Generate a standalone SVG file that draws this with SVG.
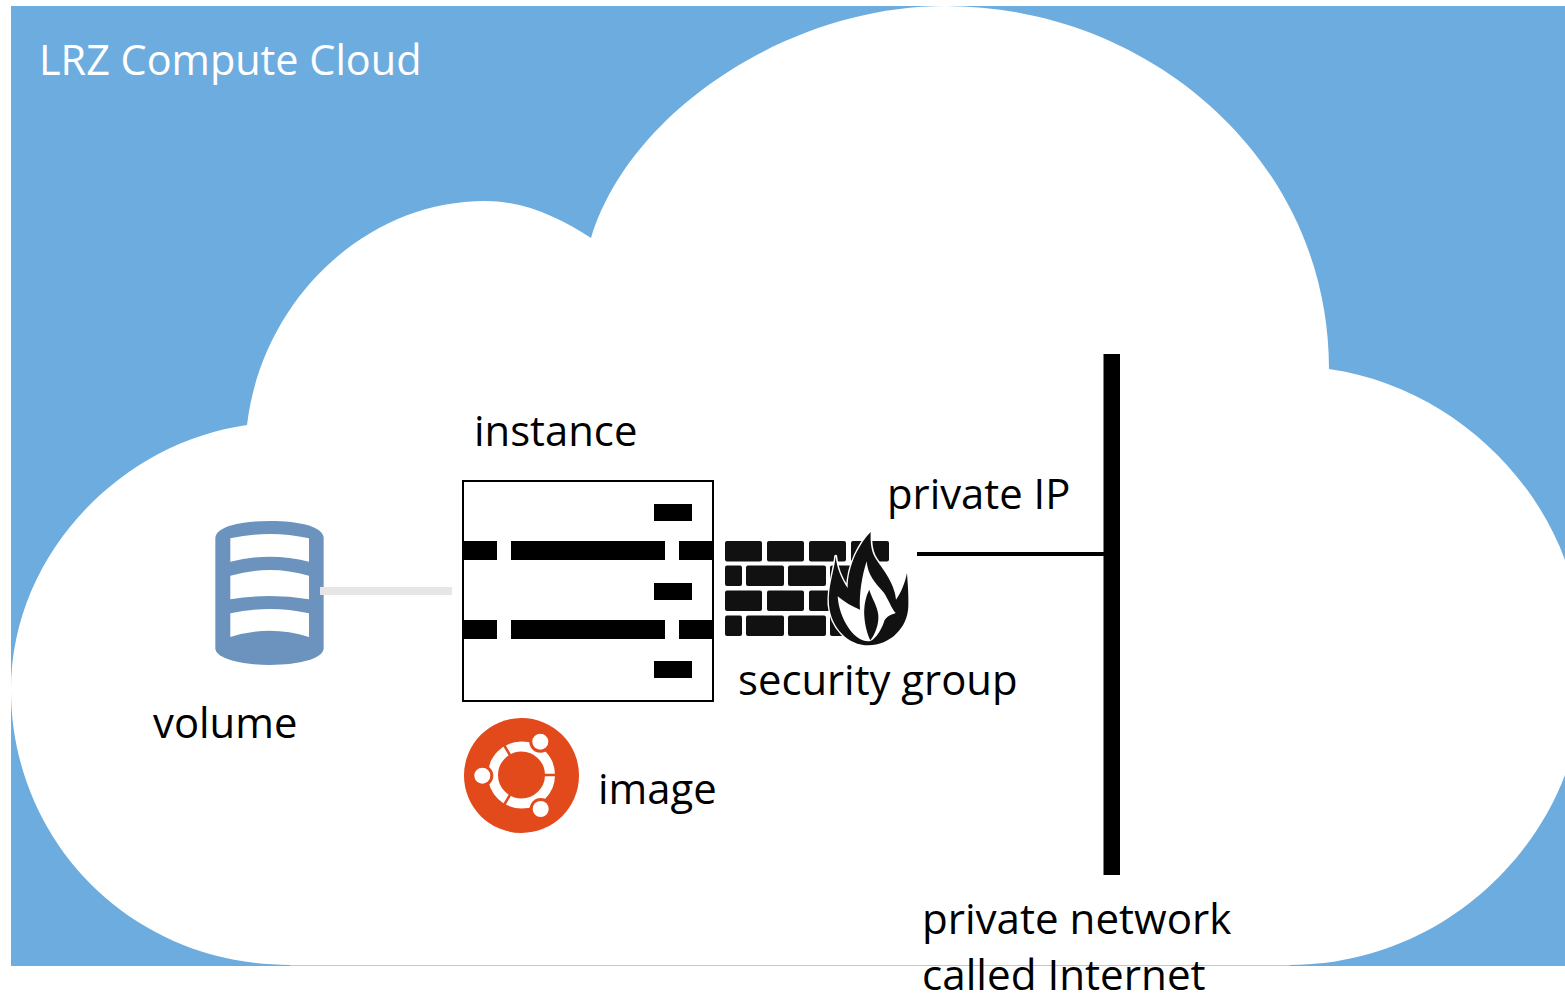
<svg xmlns="http://www.w3.org/2000/svg" width="1565" height="994" viewBox="0 0 1565 994">
<style>
text{font-family:"Open Sans","Noto Sans","Liberation Sans",sans-serif;font-size:41.800px;fill:#000}
.b{fill:#000}
.br{fill:#111;rx:2px}
.w{fill:#fff}
.o{fill:#e2491b}
</style>
<rect width="1565" height="994" fill="#fff"/>
<g id="cloud">
<rect x="11" y="6" width="1554" height="960" fill="#6dacdf"/>
<path class="w" d="M11 690C11 555 120 443 247 425C262 300 365 201 485 201C525 201 560 218 591 238C630 110 790 6 945 6C1150 6 1329 160 1329 369C1440 385 1530 465 1565 560L1565 775C1525 880 1420 965 1290 965L290 965C130 965 11 840 11 690Z"/>
<path d="M290 965.500L1290 965.500" stroke="#a9cdec" stroke-width="1" fill="none"/>
<text x="39" y="75" style="fill:#fff;font-size:41.400px">LRZ Compute Cloud</text>
</g>
<g id="network">
<rect class="b" x="1103.500" y="354" width="16.500" height="521"/>
<text x="922" y="934" style="font-size:42.100px">private network</text>
<text x="922" y="990" style="font-size:42.200px">called Internet</text>
</g>
<g id="volume">
<g transform="translate(200 510) scale(.3333)">
<path fill="#6c93bd" d="M46 85C46 50 120 33 209 33C300 33 371 50 371 85L371 415C371 445 300 465 209 465C120 465 46 445 46 415Z"/>
<path class="w" d="M91 85Q209 59 327 85L327 155Q209 125 91 155ZM91 197Q209 163 327 197L327 268Q209 248 91 268ZM91 310Q209 284 327 310L327 381Q209 343 91 381Z"/>
</g>
<text x="153" y="738">volume</text>
</g>
<g id="instance">
<rect x="463" y="481" width="250" height="220" fill="#fff" stroke="#000" stroke-width="2"/>
<rect class="b" x="654" y="504" width="38" height="17"/>
<rect class="b" x="463" y="541" width="34" height="19"/>
<rect class="b" x="511" y="541" width="154" height="19"/>
<rect class="b" x="679" y="541" width="34" height="19"/>
<rect class="b" x="654" y="583" width="38" height="17"/>
<rect class="b" x="463" y="620" width="34" height="19"/>
<rect class="b" x="511" y="620" width="154" height="19"/>
<rect class="b" x="679" y="620" width="34" height="19"/>
<rect class="b" x="654" y="661" width="38" height="17"/>
<text x="474" y="446">instance</text>
</g>
<g id="security-group">
<rect class="br" x="725" y="541" width="37" height="20.500"/>
<rect class="br" x="767" y="541" width="37" height="20.500"/>
<rect class="br" x="809" y="541" width="37" height="20.500"/>
<rect class="br" x="851" y="541" width="38" height="20.500"/>
<rect class="br" x="725" y="565.500" width="17" height="20.500"/>
<rect class="br" x="746" y="565.500" width="38" height="20.500"/>
<rect class="br" x="788" y="565.500" width="38" height="20.500"/>
<rect class="br" x="830" y="565.500" width="40" height="20.500"/>
<rect class="br" x="725" y="590.500" width="37" height="20.500"/>
<rect class="br" x="767" y="590.500" width="37" height="20.500"/>
<rect class="br" x="809" y="590.500" width="37" height="20.500"/>
<rect class="br" x="725" y="615.500" width="17" height="20.500"/>
<rect class="br" x="746" y="615.500" width="38" height="20.500"/>
<rect class="br" x="788" y="615.500" width="38" height="20.500"/>
<rect class="br" x="830" y="615.500" width="20" height="20.500"/>
<g transform="translate(825 528) scale(.3333)">
<path fill="#111" stroke="#fff" stroke-width="9" stroke-linejoin="round" paint-order="stroke" d="M137 12C105 45 68 110 68 180C50 155 35 120 32 85C28 130 8 175 12 230C18 300 70 352 130 352C195 352 248 300 250 235C251 195 248 165 246 135C240 165 228 195 213 215C208 160 165 115 148 85C138 65 136 40 137 12Z"/>
<path class="w" d="M38 205C58 222 82 236 105 245C102 195 112 140 125 100C128 140 150 165 175 192C190 212 198 240 212 255C198 260 185 265 178 278C172 300 150 340 130 340C85 340 42 270 38 205Z"/>
<path fill="#111" d="M133 185C122 205 116 235 118 265C120 295 128 322 136 337C150 320 162 290 160 262C158 235 140 210 133 185Z"/>
</g>
<text x="738" y="695">security group</text>
<text x="887" y="509">private IP</text>
</g>
<g id="image">
<circle class="o" cx="521.500" cy="775.500" r="57.500"/>
<circle cx="521.500" cy="775" r="28.500" fill="none" stroke="#fff" stroke-width="10"/>
<path d="M543 775H560M510.500 756L502 741.500M510.500 794L502 808.500" stroke="#e2491b" stroke-width="2.500" fill="none"/>
<circle class="o" cx="540.300" cy="741.700" r="11"/>
<circle class="o" cx="482.300" cy="775.700" r="11"/>
<circle class="o" cx="540.700" cy="809" r="11"/>
<circle class="w" cx="540.300" cy="741.700" r="8"/>
<circle class="w" cx="482.300" cy="775.700" r="8"/>
<circle class="w" cx="540.700" cy="809" r="8"/>
<text x="598" y="804">image</text>
</g>
<g id="connectors">
<rect x="320" y="587" width="132" height="8" fill="#e7e6e6"/>
<rect class="b" x="917" y="552" width="187" height="4"/>
</g>
</svg>
